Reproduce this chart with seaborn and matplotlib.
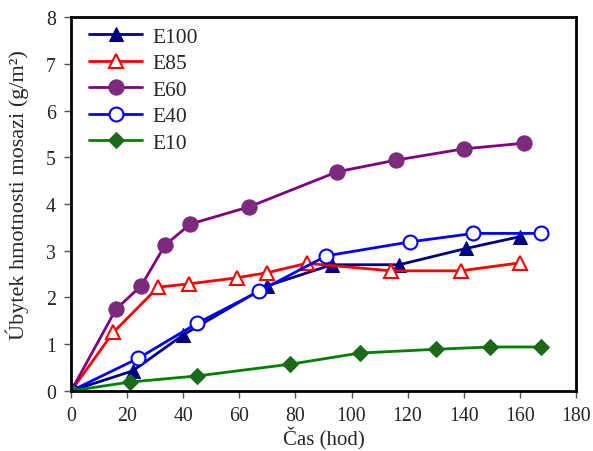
import matplotlib
matplotlib.use("Agg")
import matplotlib.pyplot as plt
import seaborn as sns
import pandas as pd

sns.set_theme(style="white")
plt.rcParams['font.family'] = ['Liberation Serif', 'DejaVu Serif']

e100_x = [0, 22, 40, 70, 93, 117, 141, 160]
e100_y = [0, 0.43, 1.2, 2.25, 2.7, 2.7, 3.05, 3.3]
e85_x = [0, 15, 31, 42, 59, 70, 84, 114, 139, 160]
e85_y = [0, 1.25, 2.22, 2.29, 2.42, 2.53, 2.73, 2.57, 2.57, 2.74]
e60_x = [0, 16, 25, 33.5, 42.5, 63.5, 95, 116, 140, 161.5]
e60_y = [0, 1.75, 2.25, 3.12, 3.57, 3.94, 4.69, 4.94, 5.18, 5.3]
e40_x = [0, 24, 45, 67, 91, 121, 143.5, 167.5]
e40_y = [0, 0.7, 1.45, 2.13, 2.89, 3.19, 3.37, 3.37]
e10_x = [0, 21, 45, 78, 103, 130, 149.5, 167.5]
e10_y = [0, 0.19, 0.32, 0.57, 0.81, 0.89, 0.94, 0.94]

series = [
    ("E100", e100_x, e100_y, dict(color="#000080", marker="^", markersize=10,
                                   markerfacecolor="#000080", markeredgecolor="#000080")),
    ("E85", e85_x, e85_y, dict(color="#FF0000", marker="^", markersize=10,
                                markerfacecolor="white", markeredgecolor="#FF0000", markeredgewidth=1.5)),
    ("E60", e60_x, e60_y, dict(color="#800080", marker="o", markersize=11,
                                markerfacecolor="#7B2A7E", markeredgecolor="#7B2A7E")),
    ("E40", e40_x, e40_y, dict(color="#0000FF", marker="o", markersize=10,
                                markerfacecolor="white", markeredgecolor="#0000FF", markeredgewidth=1.5)),
    ("E10", e10_x, e10_y, dict(color="#008000", marker="D", markersize=8,
                                markerfacecolor="#1B6B1B", markeredgecolor="#1B6B1B")),
]

fig = plt.figure(figsize=(5.93, 4.52), dpi=100)
ax = fig.add_axes([0.12, 0.133, 0.851, 0.827])

for name, xs, ys, st in series:
    df = pd.DataFrame({"x": xs, "y": ys})
    sns.lineplot(data=df, x="x", y="y", ax=ax, label=name, linewidth=2, **st)

ax.set_xlim(0, 180)
ax.set_ylim(0, 8)
ax.set_xticks(range(0, 181, 20))
ax.set_yticks(range(0, 9))
ax.set_xlabel("Čas (hod)", fontsize=15, labelpad=1)
ax.set_ylabel("Úbytek hmotnosti mosazi (g/m²)", fontsize=16)
ax.yaxis.set_label_coords(-0.083, 0.527)
ax.tick_params(axis="both", labelsize=14.3, direction="out", length=5, width=1,
               color="#555555", left=True, bottom=True, pad=6)
for sp in ax.spines.values():
    sp.set_color("black")
    sp.set_linewidth(2)

leg = ax.legend(loc="upper left", bbox_to_anchor=(0.023, 0.992), frameon=False,
                fontsize=15.5, handlelength=2.46, borderaxespad=0.0,
                labelspacing=0.3, handletextpad=0.47, borderpad=0.3)

fig.savefig("out.png", dpi=100)
